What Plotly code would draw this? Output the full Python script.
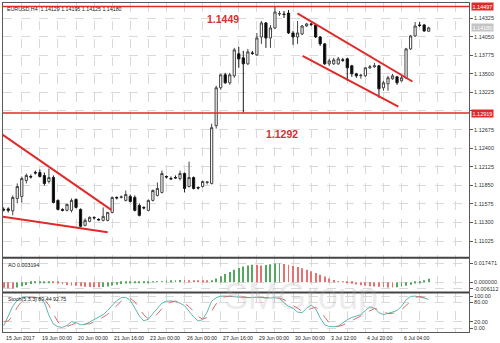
import plotly.graph_objects as go

# ---------------- data ----------------
bar_index = list(range(95))
time_labels = ["15 Jun 2017", "19 Jun 00:00", "20 Jun 00:00", "21 Jun 16:00", "23 Jun 00:00",
               "26 Jun 00:00", "27 Jun 16:00", "29 Jun 00:00", "30 Jun 00:00", "3 Jul 12:00",
               "4 Jul 20:00", "6 Jul 04:00"]
time_label_index = [0, 8, 16, 24, 32, 40, 48, 56, 64, 72, 80, 88]

open_ = [1.11494, 1.11502, 1.11472, 1.11656, 1.11686, 1.11922, 1.11981, 1.12040, 1.12040, 1.11996,
         1.11907, 1.11966, 1.11627, 1.11494, 1.11480, 1.11480, 1.11642, 1.11494, 1.11258, 1.11317,
         1.11376, 1.11347, 1.11332, 1.11332, 1.11450, 1.11671, 1.11671, 1.11627, 1.11686, 1.11671,
         1.11553, 1.11524, 1.11480, 1.11627, 1.11701, 1.11745, 1.11981, 1.11951, 1.11966, 1.11951,
         1.12025, 1.11833, 1.11966, 1.11819, 1.11833, 1.11892, 1.11878, 1.12733, 1.13293, 1.13485,
         1.13367, 1.13470, 1.13795, 1.13736, 1.13647, 1.13809, 1.13780, 1.14045, 1.14252, 1.14030,
         1.14178, 1.14384, 1.14384, 1.14399, 1.14104, 1.14045, 1.14089, 1.14207, 1.14237, 1.14222,
         1.14045, 1.13942, 1.13647, 1.13647, 1.13647, 1.13706, 1.13721, 1.13618, 1.13500, 1.13470,
         1.13470, 1.13588, 1.13603, 1.13618, 1.13293, 1.13352, 1.13426, 1.13455, 1.13396, 1.13441,
         1.13868, 1.14060, 1.14222, 1.14222, 1.14129]
high = [1.11524, 1.11524, 1.11701, 1.11878, 1.11981, 1.12025, 1.12010, 1.12069, 1.12084, 1.12040,
        1.12099, 1.11996, 1.11642, 1.11509, 1.11583, 1.11656, 1.11656, 1.11509, 1.11362, 1.11391,
        1.11391, 1.11362, 1.11524, 1.11450, 1.11686, 1.11686, 1.11701, 1.11774, 1.11715, 1.11701,
        1.11583, 1.11539, 1.11642, 1.11789, 1.11892, 1.12069, 1.11996, 1.11981, 1.11996, 1.12069,
        1.12040, 1.12202, 1.11981, 1.11833, 1.11922, 1.11907, 1.12762, 1.13323, 1.13500, 1.13514,
        1.13514, 1.13883, 1.13898, 1.13839, 1.13868, 1.13839, 1.14104, 1.14281, 1.14266, 1.14222,
        1.14490, 1.14429, 1.14429, 1.14443, 1.14134, 1.14281, 1.14222, 1.14252, 1.14252, 1.14237,
        1.14060, 1.13957, 1.13721, 1.13736, 1.13750, 1.13736, 1.13736, 1.13632, 1.13514, 1.13500,
        1.13603, 1.13632, 1.13662, 1.13632, 1.13396, 1.13470, 1.13500, 1.13470, 1.13470, 1.13883,
        1.14075, 1.14266, 1.14266, 1.14237, 1.14195]
low = [1.11465, 1.11450, 1.11406, 1.11583, 1.11597, 1.11878, 1.11951, 1.12010, 1.11966, 1.11848,
       1.11878, 1.11583, 1.11480, 1.11465, 1.11465, 1.11450, 1.11509, 1.11229, 1.11244, 1.11303,
       1.11347, 1.11332, 1.11317, 1.11317, 1.11435, 1.11642, 1.11656, 1.11612, 1.11597, 1.11465,
       1.11391, 1.11494, 1.11465, 1.11612, 1.11686, 1.11730, 1.11951, 1.11937, 1.11951, 1.11922,
       1.11745, 1.11819, 1.11789, 1.11789, 1.11819, 1.11863, 1.11863, 1.12689, 1.13264, 1.13352,
       1.13337, 1.13441, 1.13588, 1.12925, 1.13632, 1.13780, 1.13765, 1.13942, 1.13883, 1.13883,
       1.14163, 1.14355, 1.14325, 1.14089, 1.13927, 1.13942, 1.14075, 1.14193, 1.14207, 1.14030,
       1.13912, 1.13632, 1.13618, 1.13632, 1.13632, 1.13677, 1.13396, 1.13455, 1.13441, 1.13426,
       1.13455, 1.13573, 1.13588, 1.13146, 1.13249, 1.13249, 1.13411, 1.13337, 1.13382, 1.13426,
       1.13853, 1.14045, 1.14193, 1.14119, 1.14125]
close = [1.11487, 1.11480, 1.11671, 1.11833, 1.11951, 1.11996, 1.11974, 1.12033, 1.11981, 1.11878,
         1.11966, 1.11597, 1.11494, 1.11480, 1.11568, 1.11627, 1.11524, 1.11244, 1.11332, 1.11376,
         1.11369, 1.11339, 1.11391, 1.11450, 1.11671, 1.11664, 1.11679, 1.11715, 1.11612, 1.11480,
         1.11406, 1.11516, 1.11627, 1.11774, 1.11804, 1.12025, 1.11974, 1.11944, 1.11959, 1.12025,
         1.11804, 1.11966, 1.11804, 1.11811, 1.11907, 1.11900, 1.12703, 1.13293, 1.13485, 1.13367,
         1.13485, 1.13853, 1.13721, 1.13647, 1.13824, 1.13802, 1.14030, 1.14252, 1.14030, 1.14178,
         1.14414, 1.14392, 1.14377, 1.14104, 1.14045, 1.14104, 1.14207, 1.14237, 1.14230, 1.14045,
         1.13942, 1.13647, 1.13691, 1.13706, 1.13721, 1.13699, 1.13588, 1.13500, 1.13470, 1.13478,
         1.13588, 1.13603, 1.13618, 1.13278, 1.13367, 1.13441, 1.13470, 1.13367, 1.13441, 1.13868,
         1.14060, 1.14207, 1.14215, 1.14134, 1.14180]

ao = [-0.0052, -0.0057, -0.0061, -0.0050, -0.0038, -0.0027, -0.0018, -0.0010, -0.0005, -0.0002,
      -0.0001, -0.0004, -0.0012, -0.0020, -0.0026, -0.0030, -0.0034, -0.0038, -0.0042, -0.0045,
      -0.0047, -0.0048, -0.0045, -0.0040, -0.0030, -0.0024, -0.0018, -0.0012, -0.0008, -0.0006,
      -0.0004, -0.0003, -0.0001, 0.0002, 0.0005, 0.0008, 0.0012, 0.0015, 0.0018, 0.0020,
      0.0019, 0.0017, 0.0016, 0.0014, 0.0012, 0.0011, 0.0018, 0.0035, 0.0055, 0.0075,
      0.0095, 0.0115, 0.0130, 0.0145, 0.0155, 0.0160, 0.0158, 0.0155, 0.0158, 0.0165,
      0.0172, 0.0175, 0.0168, 0.0160, 0.0150, 0.0140, 0.0128, 0.0115, 0.0100, 0.0085,
      0.0068, 0.0052, 0.0035, 0.0020, 0.0008, 0.0002, -0.0008, -0.0015, -0.0022, -0.0028,
      -0.0033, -0.0037, -0.0040, -0.0043, -0.0046, -0.0049, -0.0050, -0.0048, -0.0042, -0.0034,
      -0.0024, -0.0013, -0.0003, 0.0012, 0.0032]

stoch_main = [7, 40, 68, 87, 96, 97, 97, 96, 93, 80, 40, 12, 4, 2, 8, 20, 17, 10, 11, 19,
              27, 33, 42, 55, 72, 86, 95, 96, 87, 62, 38, 22, 28, 45, 60, 78, 84, 85, 82, 78,
              70, 52, 35, 22, 26, 50, 84, 95, 100, 100, 99, 97, 96, 94, 95, 96, 97, 96, 94, 95,
              95, 92, 80, 68, 62, 50, 48, 62, 72, 60, 32, 10, 5, 4, 6, 16, 26, 33, 38, 42,
              55, 66, 62, 48, 42, 45, 50, 55, 68, 88, 99, 100, 98, 94, 89.44]
stoch_signal = [20, 22, 38, 65, 84, 93, 97, 97, 95, 90, 71, 44, 19, 6, 5, 10, 15, 16, 13, 13,
                19, 26, 34, 43, 56, 71, 84, 92, 93, 82, 62, 41, 29, 32, 44, 61, 74, 82, 84, 82,
                77, 67, 52, 36, 28, 33, 53, 76, 93, 98, 100, 99, 97, 96, 95, 95, 96, 96, 96, 95,
                95, 94, 89, 80, 70, 60, 53, 53, 61, 65, 55, 34, 16, 6, 5, 9, 16, 25, 32, 38,
                45, 54, 61, 59, 51, 45, 46, 50, 58, 70, 85, 96, 99, 97, 92.75]

# horizontal levels and trend lines (bar index, price)
level_high = 1.14497
level_low = 1.12919
last_price = 1.14180
trend_left_upper = [(-0.59, 1.12615), (23.8, 1.11487)]
trend_left_lower = [(-0.59, 1.11391), (23.0, 1.11155)]
trend_right_upper = [(64.97, 1.14395), (90.4, 1.13386)]
trend_right_lower = [(66.1, 1.13765), (87.3, 1.13013)]

main_ticks = [1.14325, 1.14050, 1.13775, 1.13500, 1.13225, 1.12950, 1.12675, 1.12400,
              1.12125, 1.11850, 1.11575, 1.11300, 1.11025]
main_ticktext = ["1.14325", "1.14050", "1.13775", "1.13500", "1.13225", "", "1.12675", "1.12400",
                 "1.12125", "1.11850", "1.11575", "1.11300", "1.11025"]
ao_ticks = [0.017471, 0.0, -0.006112]
ao_ticktext = ["0.017471", "0.000000", "-0.006112"]
stoch_ticks = [100, 80, 20, 0]
stoch_ticktext = ["100.00", "80.00", "20.00", "0.00"]

# ---------------- figure ----------------
FONT = "Liberation Sans, Arial, sans-serif"
RED = "#e02a2a"
GRID = "#d9d9d9"
AXIS = "#5a5a5a"

fig = go.Figure()
fig.add_trace(go.Candlestick(
    x=bar_index, open=open_, high=high, low=low, close=close,
    xaxis="x", yaxis="y", whiskerwidth=0, hoverinfo="skip", showlegend=False,
    increasing=dict(line=dict(color="#444444", width=1), fillcolor="#ffffff"),
    decreasing=dict(line=dict(color="#1a1a1a", width=1), fillcolor="#000000"),
))

ao_colors = ["#e87070" if i == 0 or ao[i] < ao[i - 1] else "#55a860" for i in range(len(ao))]
fig.add_trace(go.Bar(x=bar_index, y=ao, marker=dict(color=ao_colors, line=dict(width=0)),
                     width=0.2, xaxis="x2", yaxis="y2", hoverinfo="skip", showlegend=False))

fig.add_trace(go.Scatter(x=bar_index, y=stoch_main, mode="lines",
                         line=dict(color="#5cb8b0", width=1), xaxis="x3", yaxis="y3",
                         hoverinfo="skip", showlegend=False))
fig.add_trace(go.Scatter(x=bar_index, y=stoch_signal, mode="lines",
                         line=dict(color="#e06a6a", width=1, dash="dash"), xaxis="x3", yaxis="y3",
                         hoverinfo="skip", showlegend=False))

xr = [-0.154, 102.92]
xcommon = dict(range=xr, showgrid=True, gridcolor=GRID, griddash="dash", gridwidth=1,
               tick0=0, dtick=4, showticklabels=False, ticks="", zeroline=False,
               showline=True, linecolor=AXIS, linewidth=1, mirror=True, fixedrange=True)
ycommon = dict(side="right", showgrid=True, gridcolor=GRID, griddash="dash", gridwidth=1,
               ticks="outside", ticklen=3, tickcolor=AXIS, zeroline=False,
               tickfont=dict(family=FONT, size=5.5, color="#333333"),
               showline=True, linecolor=AXIS, linewidth=1, mirror=True, fixedrange=True)

fig.update_layout(
    width=500, height=343,
    margin=dict(l=2, r=29, t=2, b=11),
    paper_bgcolor="white", plot_bgcolor="white",
    showlegend=False,
    xaxis=dict(**xcommon, anchor="y", rangeslider=dict(visible=False)),
    xaxis2=dict(**xcommon, anchor="y2", matches="x"),
    xaxis3=dict(**xcommon, anchor="y3", matches="x"),
    yaxis=dict(**ycommon, domain=[0.2273, 1.0], range=[1.10787, 1.14547], anchor="x",
               tickvals=main_ticks, ticktext=main_ticktext),
    yaxis2=dict(**ycommon, domain=[0.1212, 0.2242], range=[-0.0092, 0.0221], anchor="x2",
                tickvals=ao_ticks, ticktext=ao_ticktext),
    yaxis3=dict(**ycommon, domain=[0.0, 0.1182], range=[-12.5, 109.4], anchor="x3",
                tickvals=stoch_ticks, ticktext=stoch_ticktext),
)

shapes = []
for lvl in (level_high, level_low):
    shapes.append(dict(type="line", xref="paper", yref="y", x0=0, x1=1, y0=lvl, y1=lvl,
                       line=dict(color=RED, width=1.5)))
for seg in (trend_left_upper, trend_left_lower, trend_right_upper, trend_right_lower):
    shapes.append(dict(type="line", xref="x", yref="y", x0=seg[0][0], y0=seg[0][1],
                       x1=seg[1][0], y1=seg[1][1], line=dict(color=RED, width=2)))
# panel separators
for yp in (0.2258, 0.1197):
    shapes.append(dict(type="line", xref="paper", yref="paper", x0=0, x1=1, y0=yp, y1=yp,
                       line=dict(color="#444444", width=2)))
fig.update_layout(shapes=shapes)

ann = []
ann.append(dict(xref="paper", yref="paper", x=0, y=1, xanchor="left", yanchor="top",
                xshift=2, yshift=-1, showarrow=False,
                text="EURUSD,H4  1.14129 1.14195 1.14125 1.14180",
                font=dict(family=FONT, size=5.3, color="#222222")))
ann.append(dict(xref="x", yref="y", x=48.6, y=1.14310, showarrow=False, text="<b>1.1449</b>",
                font=dict(family=FONT, size=10.5, color="#d93030")))
ann.append(dict(xref="x", yref="y", x=61.6, y=1.12608, showarrow=False, text="<b>1.1292</b>",
                font=dict(family=FONT, size=10.5, color="#d93030")))
for val, bg in ((level_high, RED), (level_low, RED), (last_price, "#c4c4c4")):
    ann.append(dict(xref="paper", yref="y", x=1, y=val, xanchor="left", yanchor="middle",
                    xshift=2, showarrow=False, text=f"{val:.5f}", bgcolor=bg, borderpad=0.5,
                    font=dict(family=FONT, size=5.5, color="white")))
ann.append(dict(xref="paper", yref="paper", x=0, y=0.2242, xanchor="left", yanchor="top",
                xshift=3, yshift=-2, showarrow=False, text="AO 0.003194",
                font=dict(family=FONT, size=5.3, color="#222222")))
ann.append(dict(xref="paper", yref="paper", x=0, y=0.1182, xanchor="left", yanchor="top",
                xshift=3, yshift=-1, showarrow=False, text="Stoch(5,3,3) 89.44 92.75",
                font=dict(family=FONT, size=5.3, color="#222222")))
for idx, lab in zip(time_label_index, time_labels):
    ann.append(dict(xref="x3", yref="paper", x=idx, y=0, xanchor="left", yanchor="top",
                    yshift=-1, showarrow=False, text=lab,
                    font=dict(family=FONT, size=5.2, color="#222222")))
ann.append(dict(xref="paper", yref="paper", x=0.81, y=0.04, showarrow=False, text="SMGroup",
                font=dict(family=FONT, size=36, color="rgba(175,175,175,0.25)")))
fig.update_layout(annotations=ann)

fig.write_html("out.html")
